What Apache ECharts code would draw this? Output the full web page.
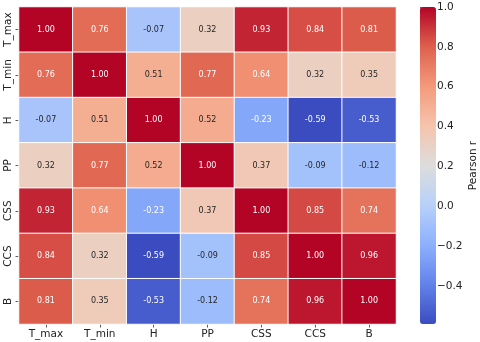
<!DOCTYPE html>
<html><head><meta charset="utf-8">
<script src="https://cdn.jsdelivr.net/npm/echarts@6/dist/echarts.min.js"></script>
<style>html,body{margin:0;padding:0;background:#fff}#c{width:480px;height:342px}</style>
</head><body><div id="c"></div>
<script>
var variables = ['T_max','T_min','H','PP','CSS','CCS','B'];
var matrix = [
  [1.00, 0.76, -0.07, 0.32, 0.93, 0.84, 0.81],
  [0.76, 1.00, 0.51, 0.77, 0.64, 0.32, 0.35],
  [-0.07, 0.51, 1.00, 0.52, -0.23, -0.59, -0.53],
  [0.32, 0.77, 0.52, 1.00, 0.37, -0.09, -0.12],
  [0.93, 0.64, -0.23, 0.37, 1.00, 0.85, 0.74],
  [0.84, 0.32, -0.59, -0.09, 0.85, 1.00, 0.96],
  [0.81, 0.35, -0.53, -0.12, 0.74, 0.96, 1.00]
];
var colorbarTicks = [-0.4, -0.2, 0.0, 0.2, 0.4, 0.6, 0.8, 1.0];
var vmin = -0.59, vmax = 1.0;
var coolwarm = [[59,76,192],[98,130,234],[141,176,254],[184,208,249],[221,221,221],[245,196,173],[244,154,123],[222,96,77],[180,4,38]];
function toHex(c){return '#'+c.map(function(v){var s=Math.round(v).toString(16);return s.length<2?'0'+s:s;}).join('');}
function cmap(v){
  var t=(v-vmin)/(vmax-vmin); t=Math.max(0,Math.min(1,t));
  var p=t*(coolwarm.length-1); var i=Math.min(Math.floor(p),coolwarm.length-2); var f=p-i;
  var a=coolwarm[i], b=coolwarm[i+1];
  return [a[0]+(b[0]-a[0])*f, a[1]+(b[1]-a[1])*f, a[2]+(b[2]-a[2])*f];
}
function lum(c){
  var r=c.map(function(x){x/=255;return x<=0.03928?x/12.92:Math.pow((x+0.055)/1.055,2.4);});
  return 0.2126*r[0]+0.7152*r[1]+0.0722*r[2];
}
var data = [];
for (var r=0;r<matrix.length;r++){
  for (var c=0;c<matrix[r].length;c++){
    var v=matrix[r][c];
    var txt = lum(cmap(v))>0.408 ? '#262626' : '#ffffff';
    data.push({value:[c,r,v], label:{color:txt}});
  }
}
var font = 'DejaVu Sans';
var chart = echarts.init(document.getElementById('c'));
chart.setOption({
  animation:false,
  textStyle:{fontFamily:font},
  grid:[
    {left:19, top:7, width:377, height:317},
    {left:420, top:7, width:16, height:317}
  ],
  xAxis:[
    {type:'category', gridIndex:0, data:variables, position:'bottom',
     axisLine:{show:false}, splitLine:{show:false},
     axisTick:{show:true, alignWithLabel:true, length:3.5, lineStyle:{color:'#333', width:0.8}},
     axisLabel:{color:'#222', fontSize:10.5, fontFamily:font, margin:5}},
    {type:'value', gridIndex:1, show:false, min:0, max:1}
  ],
  yAxis:[
    {type:'category', gridIndex:0, data:variables, inverse:true,
     axisLine:{show:false}, splitLine:{show:false},
     axisTick:{show:true, alignWithLabel:true, length:3.5, lineStyle:{color:'#333', width:0.8}},
     axisLabel:{color:'#222', fontSize:10.5, fontFamily:font, rotate:90, margin:5}},
    {type:'value', gridIndex:1, position:'right', min:vmin, max:vmax,
     axisLine:{show:false}, splitLine:{show:false},
     axisTick:{show:true, length:3.5, customValues:colorbarTicks, lineStyle:{color:'#333', width:0.8}},
     axisLabel:{color:'#222', fontSize:10.5, fontFamily:font, margin:5, customValues:colorbarTicks,
       formatter:function(v){return (v<0?'\u2212':'')+Math.abs(v).toFixed(1);}},
     name:'Pearson r', nameLocation:'middle', nameRotate:90, nameGap:36,
     nameTextStyle:{color:'#222', fontSize:10.5, fontFamily:font}}
  ],
  visualMap:{
    type:'continuous', min:vmin, max:vmax, seriesIndex:0, calculable:false,
    orient:'vertical', left:420, top:7, itemWidth:16, itemHeight:317, padding:0,
    text:null, showLabel:false, realtime:false, hoverLink:false,
    inRange:{color:coolwarm.map(toHex)}
  },
  series:[{
    type:'heatmap', xAxisIndex:0, yAxisIndex:0, data:data,
    itemStyle:{borderColor:'#ffffff', borderWidth:1},
    label:{show:true, fontSize:8, fontFamily:font,
      formatter:function(p){return p.value[2].toFixed(2);}},
    emphasis:{disabled:true}
  }]
});
</script></body></html>
